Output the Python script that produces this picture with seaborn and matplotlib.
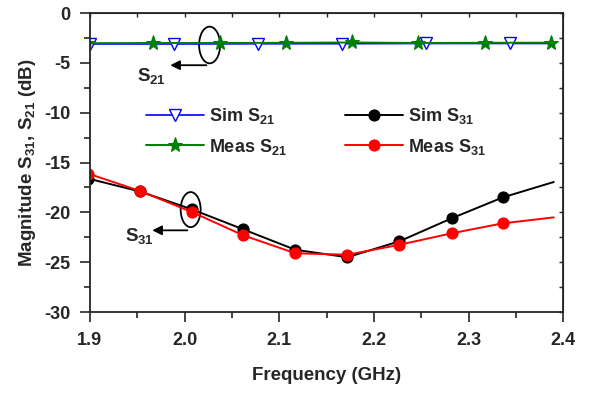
import numpy as np
import matplotlib
matplotlib.use("Agg")
import matplotlib.pyplot as plt
from matplotlib.patches import Ellipse
from matplotlib.ticker import MultipleLocator
import seaborn as sns

# S21 data (GHz, dB)
f_sim21 = [1.900, 1.989, 2.078, 2.166, 2.255, 2.344, 2.390]
s_sim21 = [-3.10, -3.10, -3.08, -3.07, -3.05, -3.05, -3.05]
f_meas21 = [1.897, 1.967, 2.037, 2.107, 2.177, 2.247, 2.317, 2.387]
s_meas21 = [-3.02, -3.00, -3.00, -2.98, -2.95, -3.00, -2.98, -2.97]

# S31 data
f_s31 = [1.898, 1.953, 2.008, 2.062, 2.117, 2.172, 2.227, 2.282, 2.336, 2.390]
s_sim31 = [-16.6, -17.9, -19.7, -21.7, -23.75, -24.5, -22.9, -20.6, -18.5, -16.95]
s_meas31 = [-16.1, -17.85, -19.97, -22.3, -24.1, -24.25, -23.25, -22.1, -21.1, -20.5]

sns.set_style("ticks")
plt.rcParams['font.family'] = ['Liberation Sans', 'DejaVu Sans']
plt.rcParams['font.weight'] = 'bold'
plt.rcParams['axes.unicode_minus'] = False
plt.rcParams['mathtext.fontset'] = 'custom'
plt.rcParams['mathtext.rm'] = 'Liberation Sans:bold'
plt.rcParams['mathtext.bf'] = 'Liberation Sans:bold'
plt.rcParams['mathtext.default'] = 'rm'

fig, ax = plt.subplots(figsize=(5.91, 3.97), dpi=100)
fig.subplots_adjust(left=0.152, right=0.953, top=0.967, bottom=0.214)

sns.lineplot(x=f_sim21, y=s_sim21, ax=ax, color='blue', lw=1.2, marker='v',
             markersize=8, markerfacecolor='white', markeredgecolor='blue',
             markeredgewidth=1.0, markevery=list(range(6)), label='Sim S$_{21}$')
sns.lineplot(x=f_meas21, y=s_meas21, ax=ax, color='green', lw=1.4, marker='*',
             markersize=11, markerfacecolor='green', markeredgecolor='green',
             label='Meas S$_{21}$')
sns.lineplot(x=f_s31, y=s_sim31, ax=ax, color='black', lw=1.4, marker='o',
             markersize=8, markerfacecolor='black', markeredgecolor='black',
             markevery=list(range(9)), label='Sim S$_{31}$')
sns.lineplot(x=f_s31, y=s_meas31, ax=ax, color='red', lw=1.4, marker='o',
             markersize=8, markerfacecolor='red', markeredgecolor='red',
             markevery=list(range(9)), label='Meas S$_{31}$')

ax.set_xlim(1.9, 2.4)
ax.set_ylim(-30, 0)
ax.xaxis.set_minor_locator(MultipleLocator(0.05))
ax.yaxis.set_major_locator(MultipleLocator(5))
ax.yaxis.set_minor_locator(MultipleLocator(2.5))
ax.set_xticks(np.arange(1.9, 2.41, 0.1))
ax.set_xticklabels(['1.9', '2.0', '2.1', '2.2', '2.3', '2.4'])
ax.tick_params(which='major', direction='out', length=7.2, width=1.2, labelsize=13, pad=7)
ax.tick_params(which='minor', direction='out', length=4, width=1.2)
for s in ax.spines.values():
    s.set_linewidth(1.3)

top = ax.secondary_xaxis('top')
top.xaxis.set_major_locator(MultipleLocator(0.05))
top.tick_params(direction='in', length=3, width=1, labeltop=False)
right = ax.secondary_yaxis('right')
right.yaxis.set_major_locator(MultipleLocator(2.5))
right.tick_params(direction='in', length=3, width=1, labelright=False)

ax.set_xlabel('Frequency (GHz)', fontsize=13.5, fontweight='bold', labelpad=13)
ax.set_ylabel('Magnitude S$_{31}$, S$_{21}$ (dB)', fontsize=13.5, fontweight='bold', labelpad=4)

ax.legend(ncol=2, loc='upper left', bbox_to_anchor=(0.10, 0.72), frameon=False,
          fontsize=13, handlelength=3.2, numpoints=1, columnspacing=3.2,
          handletextpad=0.3, labelspacing=0.6, borderpad=0)

# annotations
ax.add_patch(Ellipse((2.0265, -3.2), 0.0222, 3.68, fill=False, ec='black', lw=1.3))
ax.annotate('', xy=(1.982, -5.23), xytext=(2.026, -5.23),
            arrowprops=dict(arrowstyle='-|>', color='black', lw=1.3, mutation_scale=14))
ax.text(1.95, -6.3, 'S$_{21}$', fontsize=13.5, fontweight='bold', va='center', ha='left')

ax.add_patch(Ellipse((2.0065, -19.72), 0.0211, 3.52, fill=False, ec='black', lw=1.3))
ax.annotate('', xy=(1.963, -21.8), xytext=(2.006, -21.8),
            arrowprops=dict(arrowstyle='-|>', color='black', lw=1.3, mutation_scale=14))
ax.text(1.937, -22.4, 'S$_{31}$', fontsize=13.5, fontweight='bold', va='center', ha='left')

fig.savefig('out.png', dpi=100)
